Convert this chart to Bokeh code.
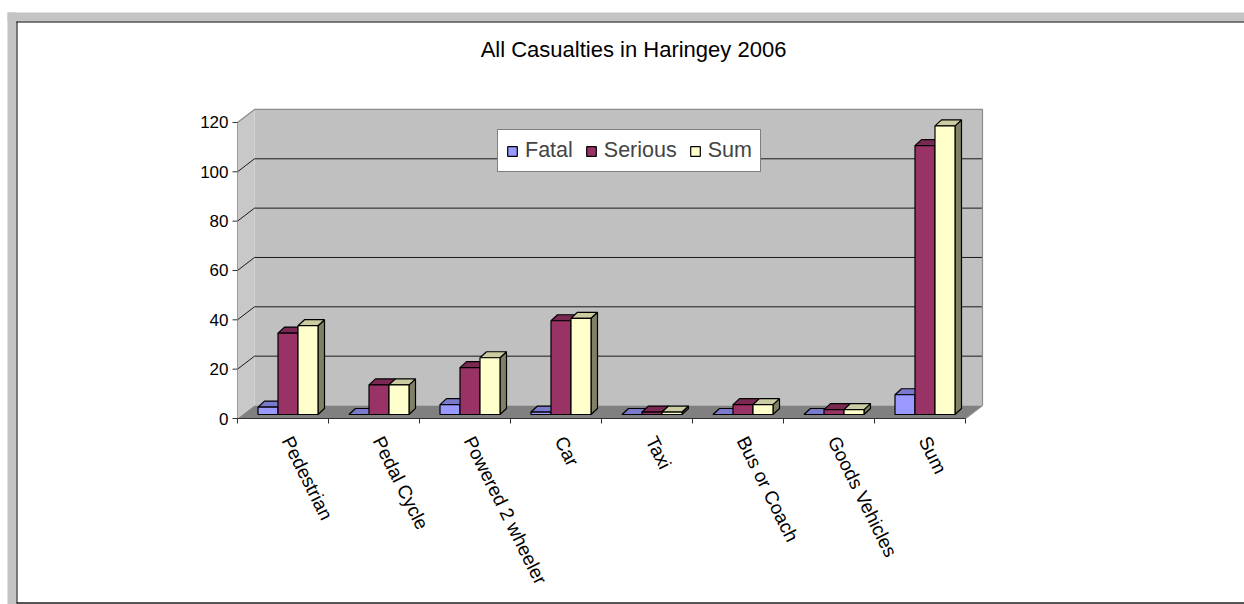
from bokeh.plotting import figure
from bokeh.models import Range1d, Legend, LegendItem, ColumnDataSource
from bokeh.core.properties import value
from bokeh.embed import file_html
from bokeh.resources import INLINE

# ---------------- data ----------------
categories = ["Pedestrian", "Pedal Cycle", "Powered 2 wheeler", "Car", "Taxi",
              "Bus or Coach", "Goods Vehicles", "Sum"]
fatal = [3, 0, 4, 1, 0, 0, 0, 8]
serious = [33, 12, 19, 38, 1, 4, 2, 109]
total = [36, 12, 23, 39, 1, 4, 2, 117]
series_names = ["Fatal", "Serious", "Sum"]
y_ticks = [0, 20, 40, 60, 80, 100, 120]
title_text = "All Casualties in Haringey 2006"

# ---------------- layout (pixels) ----------------
W, H = 1244, 604
X0, CW = 237.0, 91.0      # pixel column of category axis start, px per category
Y0, VS = 418.0, 2.467     # pixel row of value 0, px per value unit


def u(px):
    return (px - X0) / CW


def v(py):
    return (Y0 - py) / VS


FONT = "Liberation Sans"

p = figure(width=W, height=H,
           x_range=Range1d(u(0), u(W)), y_range=Range1d(v(H), v(0)),
           min_border=0, toolbar_location=None, output_backend="svg",
           x_axis_type=None, y_axis_type=None)
p.outline_line_color = None
p.background_fill_color = "white"
p.border_fill_color = "white"
p.xgrid.visible = False
p.ygrid.visible = False

# ---------------- outer frame decoration ----------------
band = "#c4c4c4"
p.quad(left=u(7), right=u(W), top=v(12), bottom=v(21), fill_color=band, line_color=None)
p.quad(left=u(7), right=u(16), top=v(12), bottom=v(H), fill_color=band, line_color=None)
p.quad(left=u(16), right=u(W), top=v(603), bottom=v(H), fill_color=band, line_color=None)
p.line([u(16), u(W)], [v(21.5), v(21.5)], line_color="black", line_width=1)
p.line([u(16.5), u(16.5)], [v(21), v(603)], line_color="black", line_width=1)
p.line([u(16), u(W)], [v(602.5), v(602.5)], line_color="#202020", line_width=1.5)

# ---------------- 3D walls ----------------
n = len(categories)
vmax = y_ticks[-1]
wx, wy = 17.0 / CW, 13.0 / VS     # depth of the walls

wall = "#c0c0c0"
p.quad(left=wx, right=n + wx, bottom=wy, top=vmax + wy, fill_color=wall, line_color=None)
p.patch([0, wx, wx, 0], [0, wy, vmax + wy, vmax], fill_color="#c8c8c8", line_color=None)
p.patch([0, n, n + wx, wx], [0, 0, wy, wy], fill_color="#808080", line_color=None)

for t in y_ticks[1:-1]:
    p.line([wx, n + wx], [t + wy, t + wy], line_color="#1a1a1a", line_width=1)
    p.line([0, wx], [t, t + wy], line_color="#1a1a1a", line_width=1)

edge = "#8c8c8c"
p.line([0, wx, n + wx, n + wx], [vmax, vmax + wy, vmax + wy, wy], line_color=edge, line_width=1.2)
p.line([n, n + wx], [0, wy], line_color=edge, line_width=1.2)
p.line([0, 0], [0, vmax], line_color="#9a9a9a", line_width=1)

# ---------------- axes ----------------
tick_len_x = 5.0 / CW
tick_len_y = 5.0 / VS
p.line([0, n], [0, 0], line_color="#303030", line_width=1.2)
p.segment(x0=list(range(n + 1)), y0=[0] * (n + 1), x1=list(range(n + 1)),
          y1=[-tick_len_y] * (n + 1), line_color="#303030", line_width=1)
p.segment(x0=[-tick_len_x] * len(y_ticks), y0=y_ticks, x1=[0] * len(y_ticks), y1=y_ticks,
          line_color="#303030", line_width=1)

p.text(x=[u(228)] * len(y_ticks), y=y_ticks, text=[str(t) for t in y_ticks],
       text_align="right", text_baseline="middle", text_font=value(FONT),
       text_font_size="17px", text_color="black")

cat_x = [i + 0.5 + 4.0 / CW for i in range(n)]
cat_y = [-19.0 / VS] * n
p.text(x=cat_x, y=cat_y, text=categories, angle=-63.5, angle_units="deg",
       text_align="left", text_baseline="middle", text_font=value(FONT),
       text_font_size="19px", text_color="black")

# title
p.text(x=[u(633)], y=[v(49)], text=[title_text], text_align="center",
       text_baseline="middle", text_font=value(FONT), text_font_size="22px",
       text_color="black")

# ---------------- bars ----------------
bw = 20.0 / CW                 # bar width
fx, fy = 5.0 / CW, 4.0 / VS    # depth shift of bar fronts
dx, dy = 6.5 / CW, 6.0 / VS    # bar depth

series = [fatal, serious, total]
fronts = ["#9999FF", "#993366", "#FFFFCC"]
tops = ["#7A7ACC", "#7A2952", "#CCCCA3"]
sides = ["#4D4D80", "#4D1933", "#808066"]

renderers = []
for j, vals in enumerate(series):
    lefts = [i + 0.5 + fx + (j - 1.5) * bw for i in range(n)]
    rights = [l + bw for l in lefts]
    bottoms = [fy] * n
    topv = [fy + val for val in vals]

    side_xs = [[r, r + dx, r + dx, r] for r in rights]
    side_ys = [[b, b + dy, t + dy, t] for b, t in zip(bottoms, topv)]
    top_xs = [[l, r, r + dx, l + dx] for l, r in zip(lefts, rights)]
    top_ys = [[t, t, t + dy, t + dy] for t in topv]

    p.patches(xs=side_xs, ys=side_ys, fill_color=sides[j], line_color="black", line_width=1.2)
    p.patches(xs=top_xs, ys=top_ys, fill_color=tops[j], line_color="black", line_width=1.2)
    src = ColumnDataSource(dict(left=lefts, right=rights, bottom=bottoms, top=topv))
    r = p.quad(left="left", right="right", bottom="bottom", top="top", source=src,
               fill_color=fronts[j], line_color="black", line_width=1.2)
    renderers.append(r)

legend = Legend(items=[LegendItem(label=name, renderers=[r]) for name, r in zip(series_names, renderers)],
                orientation="horizontal", location=(497, H - 172))
legend.border_line_color = "black"
legend.border_line_width = 1
legend.background_fill_color = "white"
legend.background_fill_alpha = 1.0
legend.padding = 8
legend.spacing = 12
legend.margin = 0
legend.label_standoff = 7
legend.glyph_width = 12
legend.glyph_height = 12
legend.label_height = 22
legend.label_text_font = FONT
legend.label_text_font_size = "21.5px"
legend.label_text_baseline = "middle"
p.add_layout(legend)

open("out.html", "w").write(file_html(p, INLINE))
